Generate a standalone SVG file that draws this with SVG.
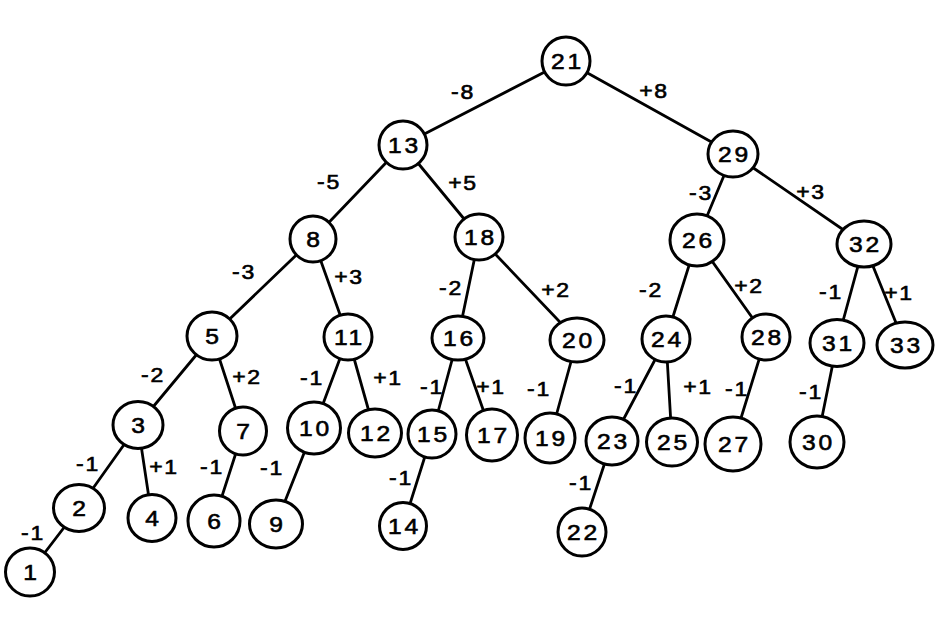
<svg xmlns="http://www.w3.org/2000/svg" width="945" height="629" viewBox="0 0 945 629">
<style>
.e{stroke:#000;stroke-width:2.8;fill:none;stroke-linecap:round}
.n ellipse{fill:#fff;stroke:#000;stroke-width:3}
.n text{font-family:"Liberation Sans",Arial,sans-serif;font-size:22px;letter-spacing:2.5px;text-anchor:middle;fill:#000;stroke:#000;stroke-width:0.6}
.l{font-family:"Liberation Sans",Arial,sans-serif;font-size:20px;letter-spacing:1.5px;text-anchor:middle;fill:#000;stroke:#000;stroke-width:0.6}
</style>
<rect width="945" height="629" fill="#fff"/>
<g id="connectors">
<line class="e" x1="566" y1="61" x2="403" y2="145"/>
<line class="e" x1="566" y1="61" x2="733" y2="154"/>
<line class="e" x1="403" y1="145" x2="313" y2="239"/>
<line class="e" x1="403" y1="145" x2="479" y2="237"/>
<line class="e" x1="733" y1="154" x2="697" y2="240"/>
<line class="e" x1="733" y1="154" x2="864" y2="244"/>
<line class="e" x1="313" y1="239" x2="212" y2="336"/>
<line class="e" x1="313" y1="239" x2="348" y2="337"/>
<line class="e" x1="479" y1="237" x2="458" y2="338"/>
<line class="e" x1="479" y1="237" x2="577" y2="340"/>
<line class="e" x1="697" y1="240" x2="666" y2="339"/>
<line class="e" x1="697" y1="240" x2="766" y2="337"/>
<line class="e" x1="864" y1="244" x2="837" y2="343"/>
<line class="e" x1="864" y1="244" x2="905" y2="345"/>
<line class="e" x1="212" y1="336" x2="138" y2="425"/>
<line class="e" x1="212" y1="336" x2="243" y2="431"/>
<line class="e" x1="348" y1="337" x2="314" y2="428"/>
<line class="e" x1="348" y1="337" x2="375" y2="433"/>
<line class="e" x1="458" y1="338" x2="432" y2="434"/>
<line class="e" x1="458" y1="338" x2="492" y2="435"/>
<line class="e" x1="577" y1="340" x2="550" y2="438"/>
<line class="e" x1="666" y1="339" x2="612" y2="441"/>
<line class="e" x1="666" y1="339" x2="672" y2="442"/>
<line class="e" x1="766" y1="337" x2="733" y2="444"/>
<line class="e" x1="837" y1="343" x2="817" y2="442"/>
<line class="e" x1="138" y1="425" x2="79" y2="508"/>
<line class="e" x1="138" y1="425" x2="152" y2="518"/>
<line class="e" x1="243" y1="431" x2="214" y2="521"/>
<line class="e" x1="314" y1="428" x2="276" y2="524"/>
<line class="e" x1="432" y1="434" x2="403" y2="526"/>
<line class="e" x1="612" y1="441" x2="582" y2="532"/>
<line class="e" x1="79" y1="508" x2="30" y2="572"/>
</g>
<g id="edge-labels">
<text class="l" transform="translate(463,99) scale(1.15,1)">-8</text>
<text class="l" transform="translate(654,98) scale(1.15,1)">+8</text>
<text class="l" transform="translate(329,189) scale(1.15,1)">-5</text>
<text class="l" transform="translate(463,190) scale(1.15,1)">+5</text>
<text class="l" transform="translate(244,279) scale(1.15,1)">-3</text>
<text class="l" transform="translate(349,284) scale(1.15,1)">+3</text>
<text class="l" transform="translate(451,295) scale(1.15,1)">-2</text>
<text class="l" transform="translate(556,297) scale(1.15,1)">+2</text>
<text class="l" transform="translate(701,200) scale(1.15,1)">-3</text>
<text class="l" transform="translate(811,199) scale(1.15,1)">+3</text>
<text class="l" transform="translate(651,297) scale(1.15,1)">-2</text>
<text class="l" transform="translate(749,293) scale(1.15,1)">+2</text>
<text class="l" transform="translate(831,299) scale(1.15,1)">-1</text>
<text class="l" transform="translate(899,300) scale(1.15,1)">+1</text>
<text class="l" transform="translate(153,382) scale(1.15,1)">-2</text>
<text class="l" transform="translate(247,384) scale(1.15,1)">+2</text>
<text class="l" transform="translate(312,385) scale(1.15,1)">-1</text>
<text class="l" transform="translate(388,385) scale(1.15,1)">+1</text>
<text class="l" transform="translate(432,394) scale(1.15,1)">-1</text>
<text class="l" transform="translate(491,394) scale(1.15,1)">+1</text>
<text class="l" transform="translate(539,396) scale(1.15,1)">-1</text>
<text class="l" transform="translate(626,393) scale(1.15,1)">-1</text>
<text class="l" transform="translate(698,394) scale(1.15,1)">+1</text>
<text class="l" transform="translate(737,396) scale(1.15,1)">-1</text>
<text class="l" transform="translate(811,399) scale(1.15,1)">-1</text>
<text class="l" transform="translate(88,471) scale(1.15,1)">-1</text>
<text class="l" transform="translate(164,474) scale(1.15,1)">+1</text>
<text class="l" transform="translate(212,474) scale(1.15,1)">-1</text>
<text class="l" transform="translate(272,475) scale(1.15,1)">-1</text>
<text class="l" transform="translate(401,485) scale(1.15,1)">-1</text>
<text class="l" transform="translate(581,490) scale(1.15,1)">-1</text>
<text class="l" transform="translate(33,540) scale(1.15,1)">-1</text>
</g>
<g id="n21" class="n"><ellipse cx="566" cy="61" rx="24" ry="24"/><text transform="translate(567.5,69) scale(1.12,1)">21</text></g>
<g id="n13" class="n"><ellipse cx="403" cy="145" rx="24" ry="24"/><text transform="translate(404.5,153) scale(1.12,1)">13</text></g>
<g id="n29" class="n"><ellipse cx="733" cy="154" rx="25" ry="23"/><text transform="translate(734.5,162) scale(1.12,1)">29</text></g>
<g id="n8" class="n"><ellipse cx="313" cy="239" rx="23" ry="23"/><text transform="translate(314.5,247) scale(1.12,1)">8</text></g>
<g id="n18" class="n"><ellipse cx="479" cy="237" rx="24" ry="23"/><text transform="translate(480.5,245) scale(1.12,1)">18</text></g>
<g id="n26" class="n"><ellipse cx="697" cy="240" rx="27" ry="26"/><text transform="translate(698.5,248) scale(1.12,1)">26</text></g>
<g id="n32" class="n"><ellipse cx="864" cy="244" rx="27" ry="23"/><text transform="translate(865.5,252) scale(1.12,1)">32</text></g>
<g id="n5" class="n"><ellipse cx="212" cy="336" rx="25" ry="24"/><text transform="translate(213.5,344) scale(1.12,1)">5</text></g>
<g id="n11" class="n"><ellipse cx="348" cy="337" rx="24" ry="23"/><text transform="translate(349.5,345) scale(1.12,1)">11</text></g>
<g id="n16" class="n"><ellipse cx="458" cy="338" rx="26" ry="22"/><text transform="translate(459.5,346) scale(1.12,1)">16</text></g>
<g id="n20" class="n"><ellipse cx="577" cy="340" rx="27" ry="22"/><text transform="translate(578.5,348) scale(1.12,1)">20</text></g>
<g id="n24" class="n"><ellipse cx="666" cy="339" rx="24" ry="23"/><text transform="translate(667.5,347) scale(1.12,1)">24</text></g>
<g id="n28" class="n"><ellipse cx="766" cy="337" rx="24" ry="23"/><text transform="translate(767.5,345) scale(1.12,1)">28</text></g>
<g id="n31" class="n"><ellipse cx="837" cy="343" rx="27" ry="23.5"/><text transform="translate(838.5,351) scale(1.12,1)">31</text></g>
<g id="n33" class="n"><ellipse cx="905" cy="345" rx="28" ry="23"/><text transform="translate(906.5,353) scale(1.12,1)">33</text></g>
<g id="n3" class="n"><ellipse cx="138" cy="425" rx="25" ry="23.5"/><text transform="translate(139.5,433) scale(1.12,1)">3</text></g>
<g id="n7" class="n"><ellipse cx="243" cy="431" rx="23.5" ry="24"/><text transform="translate(244.5,439) scale(1.12,1)">7</text></g>
<g id="n10" class="n"><ellipse cx="314" cy="428" rx="26.5" ry="26"/><text transform="translate(315.5,436) scale(1.12,1)">10</text></g>
<g id="n12" class="n"><ellipse cx="375" cy="433" rx="26.5" ry="24"/><text transform="translate(376.5,441) scale(1.12,1)">12</text></g>
<g id="n15" class="n"><ellipse cx="432" cy="434" rx="24" ry="24"/><text transform="translate(433.5,442) scale(1.12,1)">15</text></g>
<g id="n17" class="n"><ellipse cx="492" cy="435" rx="25.5" ry="26"/><text transform="translate(493.5,443) scale(1.12,1)">17</text></g>
<g id="n19" class="n"><ellipse cx="550" cy="438" rx="25" ry="25"/><text transform="translate(551.5,446) scale(1.12,1)">19</text></g>
<g id="n23" class="n"><ellipse cx="612" cy="441" rx="26" ry="24"/><text transform="translate(613.5,449) scale(1.12,1)">23</text></g>
<g id="n25" class="n"><ellipse cx="672" cy="442" rx="25.5" ry="24"/><text transform="translate(673.5,450) scale(1.12,1)">25</text></g>
<g id="n27" class="n"><ellipse cx="733" cy="444" rx="28" ry="27"/><text transform="translate(734.5,452) scale(1.12,1)">27</text></g>
<g id="n30" class="n"><ellipse cx="817" cy="442" rx="27" ry="26"/><text transform="translate(818.5,450) scale(1.12,1)">30</text></g>
<g id="n2" class="n"><ellipse cx="79" cy="508" rx="25.5" ry="23.5"/><text transform="translate(80.5,516) scale(1.12,1)">2</text></g>
<g id="n4" class="n"><ellipse cx="152" cy="518" rx="24" ry="23.5"/><text transform="translate(153.5,526) scale(1.12,1)">4</text></g>
<g id="n6" class="n"><ellipse cx="214" cy="521" rx="26" ry="26"/><text transform="translate(215.5,529) scale(1.12,1)">6</text></g>
<g id="n9" class="n"><ellipse cx="276" cy="524" rx="26.5" ry="24"/><text transform="translate(277.5,532) scale(1.12,1)">9</text></g>
<g id="n14" class="n"><ellipse cx="403" cy="526" rx="23.5" ry="23.5"/><text transform="translate(404.5,534) scale(1.12,1)">14</text></g>
<g id="n22" class="n"><ellipse cx="582" cy="532" rx="24" ry="24"/><text transform="translate(583.5,540) scale(1.12,1)">22</text></g>
<g id="n1" class="n"><ellipse cx="30" cy="572" rx="24.5" ry="24"/><text transform="translate(31.5,580) scale(1.12,1)">1</text></g>
</svg>
